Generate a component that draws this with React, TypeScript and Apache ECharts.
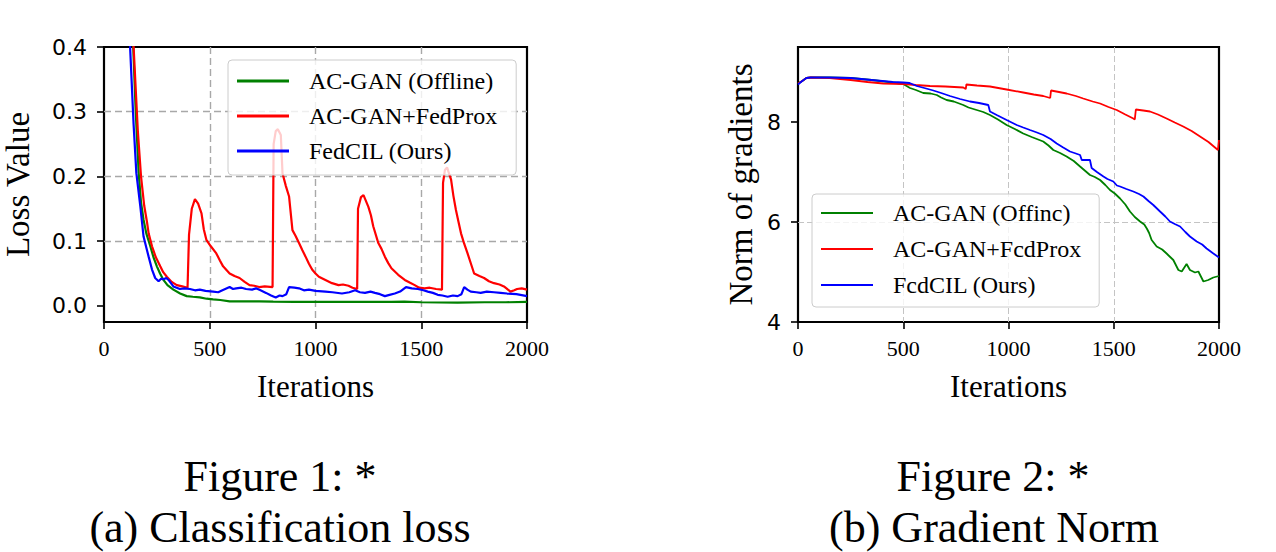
import React, { useEffect, useRef } from "react";
import * as echarts from "echarts";

// ---- Classification loss (left panel): [iteration, loss] ----
const lossOffline: number[][] = [
  [100, 0.7], [137, 0.41], [150, 0.3], [164, 0.205], [175, 0.16], [187, 0.133], [200, 0.112],
  [219, 0.092], [235, 0.074], [250, 0.061], [265, 0.05], [281, 0.04], [300, 0.032], [328, 0.025],
  [360, 0.019], [391, 0.015], [420, 0.014], [453, 0.013], [485, 0.011], [516, 0.01], [550, 0.009],
  [594, 0.007], [650, 0.007], [734, 0.007], [800, 0.0065], [900, 0.006], [1047, 0.006],
  [1200, 0.006], [1359, 0.006], [1420, 0.0065], [1500, 0.0055], [1672, 0.005], [1800, 0.0055],
  [1900, 0.0055], [2000, 0.006],
];

const lossFedProx: number[][] = [
  [100, 0.75], [140, 0.4], [160, 0.27], [175, 0.2], [190, 0.155], [203, 0.13], [211, 0.112],
  [227, 0.092], [245, 0.075], [266, 0.061], [280, 0.052], [297, 0.045], [320, 0.037], [344, 0.032],
  [370, 0.03], [395, 0.028], [402, 0.11], [415, 0.15], [430, 0.165], [445, 0.158], [461, 0.143],
  [472, 0.118], [484, 0.102], [505, 0.092], [531, 0.081], [548, 0.07], [563, 0.061], [594, 0.05],
  [617, 0.046], [641, 0.043], [665, 0.037], [688, 0.032], [710, 0.031], [734, 0.029], [760, 0.03],
  [797, 0.029], [802, 0.25], [812, 0.27], [822, 0.273], [836, 0.264], [844, 0.205], [860, 0.185],
  [875, 0.169], [891, 0.117], [906, 0.108], [922, 0.097], [938, 0.086], [953, 0.076], [969, 0.065],
  [984, 0.056], [1000, 0.05], [1016, 0.045], [1047, 0.04], [1078, 0.035], [1109, 0.032],
  [1130, 0.033], [1156, 0.031], [1175, 0.028], [1197, 0.026], [1201, 0.15], [1215, 0.168],
  [1227, 0.171], [1250, 0.153], [1262, 0.14], [1273, 0.123], [1297, 0.097], [1312, 0.088],
  [1328, 0.076], [1344, 0.066], [1359, 0.058], [1391, 0.048], [1422, 0.04], [1445, 0.036],
  [1469, 0.032], [1490, 0.028], [1516, 0.027], [1540, 0.028], [1570, 0.026], [1598, 0.025],
  [1603, 0.19], [1612, 0.21], [1622, 0.214], [1641, 0.195], [1652, 0.17], [1664, 0.148],
  [1676, 0.13], [1688, 0.112], [1703, 0.096], [1719, 0.081], [1735, 0.065], [1750, 0.05],
  [1775, 0.046], [1797, 0.043], [1820, 0.038], [1844, 0.035], [1870, 0.033], [1891, 0.03],
  [1910, 0.025], [1922, 0.022], [1940, 0.024], [1953, 0.026], [1975, 0.027], [2000, 0.025],
];

const lossFedCIL: number[][] = [
  [95, 0.62], [122, 0.41], [140, 0.28], [153, 0.205], [172, 0.153], [187, 0.107], [200, 0.09],
  [211, 0.076], [227, 0.056], [242, 0.043], [258, 0.038], [270, 0.042], [281, 0.041], [295, 0.043],
  [305, 0.04], [328, 0.03], [359, 0.026], [380, 0.027], [406, 0.026], [430, 0.024], [453, 0.025],
  [480, 0.023], [516, 0.022], [540, 0.021], [560, 0.024], [594, 0.029], [610, 0.026], [625, 0.027],
  [650, 0.028], [672, 0.026], [700, 0.025], [719, 0.027], [740, 0.024], [766, 0.02], [790, 0.016],
  [812, 0.013], [830, 0.016], [844, 0.015], [862, 0.018], [875, 0.029], [900, 0.028], [922, 0.027],
  [945, 0.024], [969, 0.025], [1000, 0.023], [1047, 0.022], [1080, 0.021], [1125, 0.019],
  [1160, 0.021], [1187, 0.024], [1210, 0.021], [1234, 0.02], [1260, 0.022], [1281, 0.02],
  [1305, 0.018], [1328, 0.015], [1350, 0.017], [1375, 0.019], [1400, 0.022], [1428, 0.029],
  [1455, 0.027], [1484, 0.026], [1510, 0.024], [1531, 0.022], [1555, 0.02], [1578, 0.017],
  [1600, 0.016], [1625, 0.014], [1650, 0.016], [1672, 0.015], [1690, 0.018], [1703, 0.029],
  [1718, 0.025], [1734, 0.022], [1760, 0.021], [1781, 0.02], [1810, 0.022], [1844, 0.021],
  [1875, 0.02], [1906, 0.019], [1950, 0.018], [2000, 0.015],
];

// ---- Gradient norm (right panel): [iteration, norm] ----
const normOffline: number[][] = [
  [0, 8.77], [20, 8.82], [40, 8.88], [60, 8.89], [150, 8.89], [250, 8.88], [350, 8.84],
  [450, 8.79], [500, 8.76], [532, 8.68], [560, 8.64], [595, 8.58], [630, 8.57], [659, 8.54],
  [680, 8.49], [706, 8.44], [740, 8.41], [785, 8.34], [810, 8.29], [849, 8.24], [880, 8.2],
  [912, 8.14], [950, 8.05], [991, 7.94], [1030, 7.86], [1070, 7.77], [1110, 7.7], [1165, 7.61],
  [1190, 7.53], [1213, 7.44], [1245, 7.38], [1276, 7.31], [1310, 7.22], [1340, 7.11],
  [1365, 7.02], [1387, 6.94], [1410, 6.9], [1435, 6.84], [1460, 6.74], [1482, 6.64],
  [1505, 6.57], [1530, 6.47], [1555, 6.35], [1577, 6.21], [1600, 6.1], [1625, 6.01],
  [1645, 5.95], [1657, 5.87], [1668, 5.78], [1680, 5.64], [1704, 5.51], [1730, 5.45],
  [1751, 5.37], [1783, 5.24], [1807, 5.04], [1823, 5.01], [1846, 5.16], [1862, 5.04],
  [1886, 4.99], [1902, 5.01], [1926, 4.81], [1949, 4.84], [1973, 4.89], [2000, 4.92],
];

const normFedProx: number[][] = [
  [0, 8.77], [20, 8.82], [40, 8.88], [60, 8.89], [150, 8.88], [250, 8.84], [330, 8.8],
  [405, 8.77], [500, 8.76], [560, 8.74], [627, 8.72], [700, 8.71], [785, 8.69], [797, 8.66],
  [800, 8.75], [850, 8.73], [912, 8.71], [991, 8.65], [1070, 8.59], [1120, 8.55], [1165, 8.52],
  [1198, 8.48], [1202, 8.63], [1240, 8.6], [1276, 8.57], [1320, 8.52], [1355, 8.47], [1400, 8.41],
  [1435, 8.37], [1475, 8.3], [1514, 8.24], [1555, 8.15], [1593, 8.07], [1600, 8.05], [1605, 8.25],
  [1640, 8.23], [1672, 8.21], [1710, 8.15], [1751, 8.07], [1790, 7.99], [1830, 7.91],
  [1870, 7.82], [1910, 7.71], [1950, 7.6], [1995, 7.44], [2000, 7.64],
];

const normFedCIL: number[][] = [
  [0, 8.75], [20, 8.82], [40, 8.88], [60, 8.89], [150, 8.89], [250, 8.88], [350, 8.84],
  [450, 8.8], [500, 8.79], [530, 8.78], [564, 8.72], [600, 8.68], [643, 8.63], [680, 8.58],
  [722, 8.52], [770, 8.46], [817, 8.41], [860, 8.38], [904, 8.34], [912, 8.21], [944, 8.14],
  [991, 8.04], [1039, 7.94], [1070, 7.89], [1102, 7.84], [1135, 7.79], [1165, 7.74],
  [1200, 7.66], [1229, 7.57], [1260, 7.49], [1292, 7.41], [1320, 7.37], [1340, 7.34],
  [1348, 7.24], [1387, 7.24], [1395, 7.08], [1420, 7.0], [1451, 6.91], [1470, 6.86],
  [1498, 6.81], [1515, 6.73], [1530, 6.71], [1560, 6.66], [1593, 6.61], [1620, 6.56],
  [1641, 6.51], [1665, 6.42], [1688, 6.34], [1720, 6.21], [1745, 6.11], [1767, 6.01],
  [1790, 5.96], [1815, 5.91], [1840, 5.8], [1862, 5.71], [1894, 5.61], [1920, 5.55],
  [1941, 5.47], [1970, 5.38], [2000, 5.29],
];

const lossNames = ["AC-GAN (Offline)", "AC-GAN+FedProx", "FedCIL (Ours)"];
const normNames = ["AC-GAN (Offinc)", "AC-GAN+FcdProx", "FcdCIL (Ours)"];
const seriesColors = ["#008000", "#ff0000", "#0000ff"];

const lossTicks = [0, 0.1, 0.2, 0.3, 0.4];
const normTicks = [4, 6, 8];

const SERIF = "Liberation Serif";
const SANS = "DejaVu Sans";

function xAxisFor(gridIndex: number, gridColor: string, dash: number[], gridWidth: number) {
  return {
    type: "value",
    gridIndex,
    min: 0,
    max: 2000,
    interval: 500,
    name: "Iterations",
    nameLocation: "middle",
    nameGap: 49,
    nameTextStyle: { fontFamily: SERIF, fontSize: 31, color: "#000" },
    axisLine: { show: false, onZero: false },
    axisTick: { show: true, length: 7, lineStyle: { color: "#000", width: 1.6 } },
    axisLabel: { fontFamily: SERIF, fontSize: 22, color: "#000", margin: 15, formatter: (v: number) => String(v) },
    splitLine: {
      show: true,
      showMinLine: false,
      showMaxLine: false,
      lineStyle: { color: gridColor, type: dash, width: gridWidth },
    },
  };
}

function legendFor(names: string[], left: number, top: number, padding: number[], gap: number, iconH: number) {
  return {
    show: true,
    orient: "vertical",
    left,
    top,
    data: names,
    selectedMode: false,
    padding,
    itemGap: gap,
    itemWidth: 52,
    itemHeight: iconH,
    icon: "rect",
    backgroundColor: "rgba(255,255,255,0.8)",
    borderColor: "#cccccc",
    borderWidth: 1,
    borderRadius: 4,
    itemStyle: { borderWidth: 0 },
    textStyle: { fontFamily: SERIF, fontSize: 24, color: "#000", padding: [0, 0, 0, 15] },
  };
}

function lineSeries(name: string, data: number[][], idx: number, color: string, width: number) {
  return {
    type: "line",
    name,
    data,
    xAxisIndex: idx,
    yAxisIndex: idx,
    showSymbol: false,
    symbol: "none",
    clip: true,
    color,
    itemStyle: { color },
    lineStyle: { color, width },
    emphasis: { disabled: true },
  };
}

function caption(text: string, x: number, y: number) {
  return {
    type: "text",
    x,
    y,
    style: { text, font: `44px "${SERIF}"`, fill: "#000", textAlign: "center", textVerticalAlign: "middle" },
  };
}

export default function App() {
  const ref = useRef<HTMLDivElement>(null);

  useEffect(() => {
    if (!ref.current) return;
    const chart = echarts.init(ref.current, undefined, { renderer: "svg" });

    const lossData = [lossOffline, lossFedProx, lossFedCIL];
    const normData = [normOffline, normFedProx, normFedCIL];

    chart.setOption({
      animation: false,
      backgroundColor: "#ffffff",
      grid: [
        { left: 100, top: 47, width: 427, height: 275, show: true, borderColor: "#000", borderWidth: 2.2, backgroundColor: "transparent" },
        { left: 798, top: 47, width: 421, height: 275, show: true, borderColor: "#000", borderWidth: 2.2, backgroundColor: "transparent" },
      ],
      xAxis: [
        xAxisFor(0, "#a8a8a8", [7, 4], 1.4),
        xAxisFor(1, "#c4c4c4", [6, 3], 1),
      ],
      yAxis: [
        {
          type: "value",
          gridIndex: 0,
          min: -0.025,
          max: 0.4,
          splitNumber: 4,
          name: "Loss Value",
          nameLocation: "middle",
          nameGap: 70,
          nameTextStyle: { fontFamily: SERIF, fontSize: 33, color: "#000" },
          axisLine: { show: false, onZero: false },
          axisTick: { show: true, length: 7, customValues: lossTicks, lineStyle: { color: "#000", width: 1.6 } },
          axisLabel: {
            customValues: lossTicks,
            fontFamily: SANS,
            fontSize: 22,
            color: "#000",
            margin: 17,
            formatter: (v: number) => v.toFixed(1),
          },
          splitLine: {
            show: true,
            showMinLine: false,
            showMaxLine: false,
            lineStyle: { color: "#a8a8a8", type: [7, 4], width: 1.4 },
          },
        },
        {
          type: "value",
          gridIndex: 1,
          min: 4,
          max: 9.5,
          interval: 2,
          name: "Norm of gradients",
          nameLocation: "middle",
          nameGap: 41,
          nameTextStyle: { fontFamily: SERIF, fontSize: 33, color: "#000" },
          axisLine: { show: false, onZero: false },
          axisTick: { show: true, length: 7, customValues: normTicks, lineStyle: { color: "#000", width: 1.6 } },
          axisLabel: {
            customValues: normTicks,
            fontFamily: SANS,
            fontSize: 22,
            color: "#000",
            margin: 17,
            formatter: (v: number) => String(Math.round(v)),
          },
          splitLine: {
            show: true,
            showMinLine: false,
            showMaxLine: false,
            lineStyle: { color: "#c4c4c4", type: [6, 3], width: 1 },
          },
        },
      ],
      legend: [
        legendFor(lossNames, 228, 60, [9, 19, 12, 9], 11, 3),
        legendFor(normNames, 812, 194, [7, 18, 10, 9], 12, 2),
      ],
      series: [
        ...lossData.map((d, i) => lineSeries(lossNames[i], d, 0, seriesColors[i], 2.2)),
        ...normData.map((d, i) => lineSeries(normNames[i], d, 1, seriesColors[i], 1.8)),
      ],
      graphic: [
        caption("Figure 1: *", 280, 476),
        caption("(a) Classification loss", 280, 527),
        caption("Figure 2: *", 993, 476),
        caption("(b) Gradient Norm", 994, 527),
      ],
    });

    return () => chart.dispose();
  }, []);

  return (
    <div
      ref={ref}
      style={{ position: "fixed", left: 0, top: 0, width: 1276, height: 552, background: "#fff" }}
    />
  );
}
